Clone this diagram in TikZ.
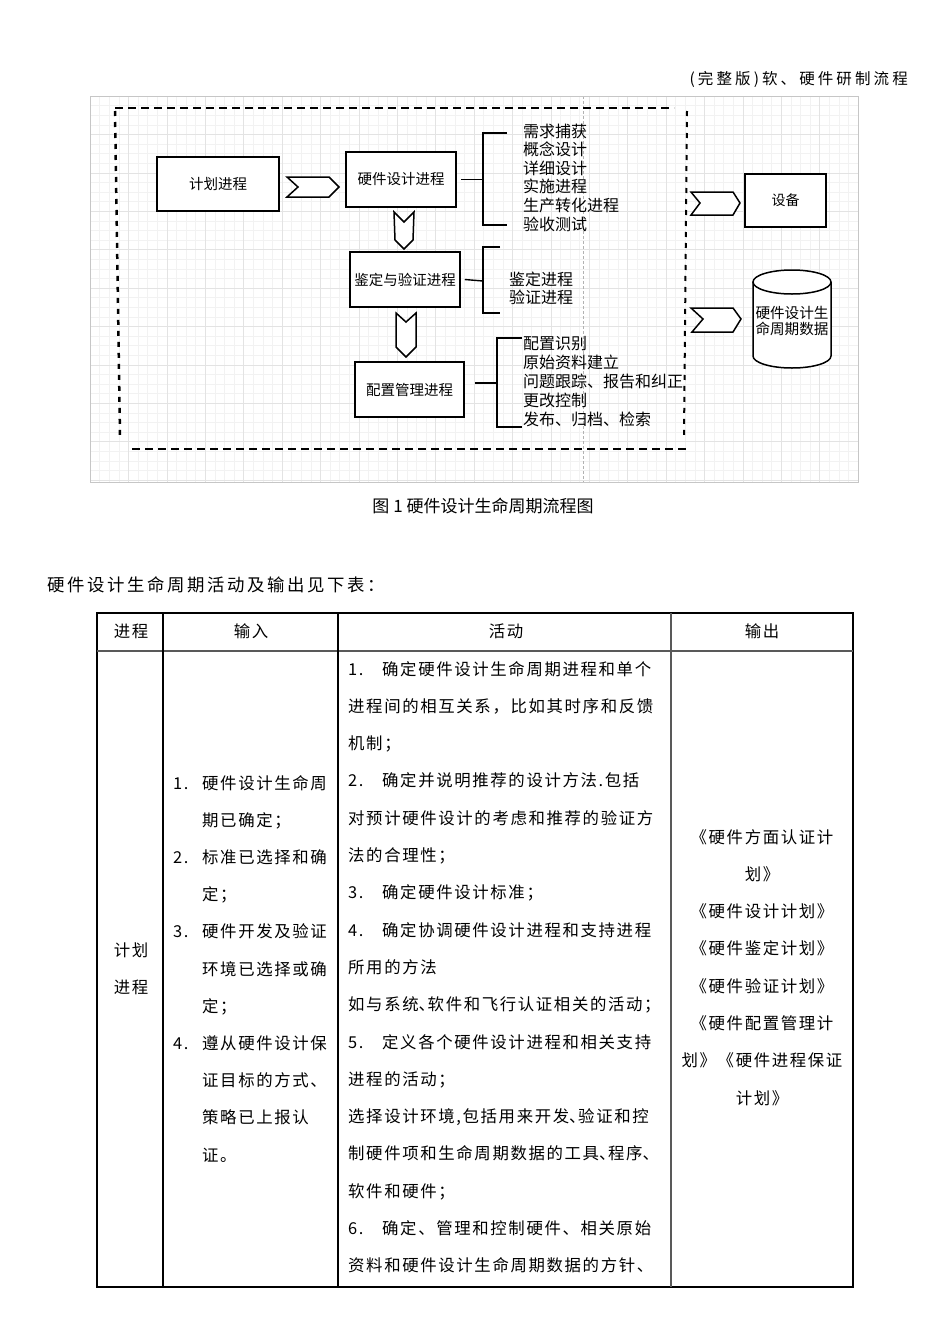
\documentclass[tikz,border=0pt]{standalone}
\usepackage{fontspec}
\setmainfont{Noto Sans CJK SC}
\newfontfamily\cjk{Noto Sans CJK SC}
\newfontfamily\cjktb[LetterSpace=10]{Noto Sans CJK SC}
\newfontfamily\cjkintro[LetterSpace=15]{Noto Sans CJK SC}
\newfontfamily\cjkhd[LetterSpace=20]{Noto Sans CJK SC}
\newcommand\hdun{\makebox[9pt][l]{、}}
\tikzset{
  gridminor/.style={gray!10, line width=0.4pt},
  gridmajor/.style={gray!22, line width=0.5pt},
  procbox/.style={draw, line width=1.5pt, fill=white, inner sep=0pt, font=\fontsize{14.5}{17}\cjk},
  chev/.style={draw, line width=1.5pt, fill=white, line join=miter},
  brk/.style={line width=1.4pt},
  lst/.style={anchor=base west, inner sep=0pt, font=\fontsize{16}{18}\cjk},
  cell/.style={anchor=base west, inner sep=0pt, font=\fontsize{16.4}{18}\cjktb},
  cellc/.style={anchor=base, inner sep=0pt, font=\fontsize{16.4}{18}\cjktb},
  topdash/.style={line width=2.5pt, dash pattern=on 8pt off 5pt},
  sidedash/.style={line width=2.5pt, dash pattern=on 5pt off 6pt},
  tline/.style={line width=1.2pt},
  tgray/.style={line width=1.2pt, black!65},
}
\begin{document}
\begin{tikzpicture}[x=1pt,y=-1pt]
\useasboundingbox (0,0) rectangle (950,1344);
\fill[white] (0,0) rectangle (950,1344);

% header
\node[anchor=base east, inner sep=0pt, font=\fontsize{15.5}{18}\cjkhd] (hdr) at (908,84) {(完整版)软、硬件研制流程};

% diagram background grid
\begin{scope}
\clip (90,96) rectangle (858,482);
\foreach \i in {0,...,80}{
  \draw[gridminor] ({90+9.6*\i},96) -- ({90+9.6*\i},482);
}
\foreach \i in {0,...,41}{
  \draw[gridminor] (90,{96+9.6*\i}) -- (858,{96+9.6*\i});
}
\foreach \i in {0,...,20}{
  \draw[gridmajor] ({90+38.4*\i},96) -- ({90+38.4*\i},482);
}
\foreach \i in {0,...,10}{
  \draw[gridmajor] (90,{96+38.4*\i}) -- (858,{96+38.4*\i});
}
\end{scope}
\draw[gray!60, dash pattern=on 3pt off 2pt, line width=0.4pt] (583,96) -- (583,482);
\draw[gray!45, line width=0.8pt] (90,96) rectangle (858,482);

% dashed boundary
\draw[topdash] (115,108) -- (674,108);
\draw[sidedash] (115,111) -- (120,436);
\draw[topdash] (132,449) -- (687,449);
\draw[sidedash, line width=2pt] (687,111) -- (684,437);

% process boxes
\node[procbox, minimum width=122pt, minimum height=54pt] (plan) at (218,184) {计划进程};
\node[procbox, minimum width=110pt, minimum height=55pt] (hwd) at (401,179.5) {硬件设计进程};
\node[procbox, minimum width=110pt, minimum height=55pt] (ver) at (405,279.5) {鉴定与验证进程};
\node[procbox, minimum width=109pt, minimum height=55pt] (cfg) at (409.5,389.5) {配置管理进程};
\node[procbox, minimum width=81pt, minimum height=53pt, font=\fontsize{14}{17}\cjk] (dev) at (785.5,200.5) {设备};

% chevrons
\draw[chev] (287,177) -- (329,177) -- (339,187) -- (329,197) -- (287,197) -- (298,187) -- cycle;
\draw[chev] (394,212) -- (404,222) -- (414,212) -- (413,240) -- (404,249) -- (395,240) -- cycle;
\draw[chev] (396,313) -- (406,322) -- (416,313) -- (416,347) -- (406,357) -- (396,347) -- cycle;
\draw[chev] (691,192) -- (733,192) -- (740,203) -- (733,215) -- (691,215) -- (700,203) -- cycle;
\draw[chev] (691,308) -- (733,308) -- (741,319) -- (733,332) -- (692,332) -- (703,319) -- cycle;

% cylinder
\fill[white] (753,282) -- (753,356) .. controls (753,362.6) and (770.5,368) .. (792,368) .. controls (813.5,368) and (831,362.6) .. (831,356) -- (831,282) -- cycle;
\draw[line width=1.5pt] (753,282) -- (753,356) .. controls (753,362.6) and (770.5,368) .. (792,368) .. controls (813.5,368) and (831,362.6) .. (831,356) -- (831,282);
\draw[line width=1.5pt, fill=white] (792,282) ellipse [x radius=39, y radius=12];
\node[inner sep=0pt, align=center, font=\fontsize{14.6}{16}\cjk] (cyl) at (792,321) {硬件设计生\\命周期数据};

% brackets
\draw[brk] ([xshift=4pt]hwd.east) -- (483,179.5);
\draw[brk] (507,133) -- (483,133) -- (483,225) -- (507,225);
\draw[brk] ([xshift=4pt]ver.east) -- (483,281);
\draw[brk] (500,247) -- (483,247) -- (483,313) -- (500,313);
\draw[brk] ([xshift=10pt,yshift=6.5pt]cfg.east) -- (497,383);
\draw[brk] (522,338) -- (497,338) -- (497,427) -- (522,427);

% lists
\foreach \t [count=\i from 0] in {需求捕获,概念设计,详细设计,实施进程,生产转化进程,验收测试}{
  \node[lst] (hl\i) at (523,{137+18.6*\i}) {\t};
}
\foreach \t [count=\i from 0] in {鉴定进程,验证进程}{
  \node[lst] (vl\i) at (509,{285+18*\i}) {\t};
}
\foreach \t [count=\i from 0] in {配置识别,原始资料建立,问题跟踪、报告和纠正,更改控制,发布、归档、检索}{
  \node[lst] (cl\i) at (523,{349+19.2*\i}) {\t};
}

% caption
\node[inner sep=0pt, anchor=base, font=\fontsize{17}{20}\cjk] (cap) at (483,512.5) {图 1 硬件设计生命周期流程图};

% intro
\node[inner sep=0pt, anchor=base west, font=\fontsize{17.4}{20}\cjkintro] (intro) at (47,591.5) {硬件设计生命周期活动及输出见下表：};

% table
\draw[tline] (97,613) rectangle (853,1287);
\draw[tgray] (97,651) -- (853,651);
\draw[tline] (163,613) -- (163,1287);
\draw[tline] (338,613) -- (338,1287);
\draw[tgray] (671,613) -- (671,1287);

\node[cellc] (h1) at (131,637) {进程};
\node[cellc] (h2) at (251,637) {输入};
\node[cellc] (h3) at (506,637) {活动};
\node[cellc] (h4) at (762,637) {输出};

\node[cellc] (p1) at (131,956) {计划};
\node[cellc] (p2) at (131,993) {进程};

\foreach \t [count=\i from 0] in {
  {\makebox[29pt][l]{1.}硬件设计生命周},
  {\makebox[29pt][l]{}期已确定；},
  {\makebox[29pt][l]{2.}标准已选择和确},
  {\makebox[29pt][l]{}定；},
  {\makebox[29pt][l]{3.}硬件开发及验证},
  {\makebox[29pt][l]{}环境已选择或确},
  {\makebox[29pt][l]{}定；},
  {\makebox[29pt][l]{4.}遵从硬件设计保},
  {\makebox[29pt][l]{}证目标的方式、},
  {\makebox[29pt][l]{}策略已上报认},
  {\makebox[29pt][l]{}证。}}{
  \node[cell] (in\i) at (173,{789+37.2*\i}) {\t};
}

\foreach \t [count=\i from 0] in {
  {\makebox[34pt][l]{1.}确定硬件设计生命周期进程和单个},
  {进程间的相互关系，比如其时序和反馈},
  {机制；},
  {\makebox[34pt][l]{2.}确定并说明推荐的设计方法.包括},
  {对预计硬件设计的考虑和推荐的验证方},
  {法的合理性；},
  {\makebox[34pt][l]{3.}确定硬件设计标准；},
  {\makebox[34pt][l]{4.}确定协调硬件设计进程和支持进程},
  {所用的方法},
  {如与系统\hdun 软件和飞行认证相关的活动；},
  {\makebox[34pt][l]{5.}定义各个硬件设计进程和相关支持},
  {进程的活动；},
  {选择设计环境,包括用来开发\hdun 验证和控},
  {制硬件项和生命周期数据的工具\hdun 程序\hdun},
  {软件和硬件；},
  {\makebox[34pt][l]{6.}确定、管理和控制硬件、相关原始},
  {资料和硬件设计生命周期数据的方针、}}{
  \node[cell] (act\i) at (348,{675+37.3*\i}) {\t};
}

\foreach \t [count=\i from 0] in {
  {《硬件方面认证计},
  {划》},
  {《硬件设计计划》},
  {《硬件鉴定计划》},
  {《硬件验证计划》},
  {《硬件配置管理计},
  {划》《硬件进程保证},
  {计划》}}{
  \node[cellc] (out\i) at (762,{843+37.3*\i}) {\t};
}
\end{tikzpicture}
\end{document}
